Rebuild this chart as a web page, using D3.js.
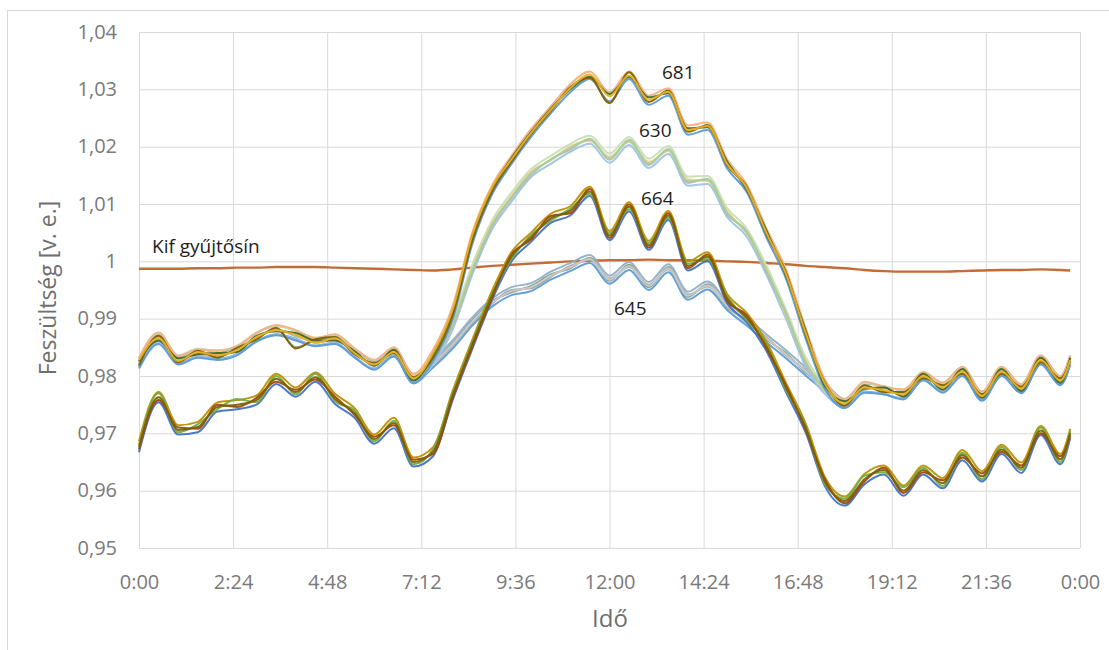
<!DOCTYPE html>
<html>
<head>
<meta charset="utf-8">
<script src="https://cdn.jsdelivr.net/npm/d3@7"></script>
<style>
  body { margin: 0; background: #fff; }
  text { font-family: "Open Sans", sans-serif; }
</style>
</head>
<body>
<svg id="chart" width="1109" height="650"></svg>
<script>
// time of each sample, minutes after midnight
var times = [0, 30, 60, 90, 120, 150, 180, 210, 240, 270, 300, 330, 360, 390, 420, 450,
  480, 510, 540, 570, 600, 630, 660, 690, 720, 750, 780, 810, 840, 870, 900, 930,
  960, 990, 1020, 1050, 1080, 1110, 1140, 1170, 1200, 1230, 1260, 1290, 1320, 1350,
  1380, 1410, 1425];

var xTickValues = [0, 144, 288, 432, 576, 720, 864, 1008, 1152, 1296, 1440];
var xTickLabels = ['0:00', '2:24', '4:48', '7:12', '9:36', '12:00', '14:24', '16:48', '19:12', '21:36', '0:00'];
var yTickValues = [0.95, 0.96, 0.97, 0.98, 0.99, 1.00, 1.01, 1.02, 1.03, 1.04];
var yTickLabels = ['0,95', '0,96', '0,97', '0,98', '0,99', '1', '1,01', '1,02', '1,03', '1,04'];

var kif = [0.9987, 0.9987, 0.9987, 0.9988, 0.9988, 0.9989, 0.9989, 0.9990, 0.9990, 0.9990, 0.9989, 0.9988, 0.9987, 0.9986, 0.9985, 0.9984, 0.9986,
  0.9989, 0.9992, 0.9994, 0.9996, 0.9998, 1.0000, 1.0001, 1.0002, 1.0002, 1.0003, 1.0002, 1.0002, 1.0001, 1.0000, 0.9999,
  0.9997, 0.9995, 0.9992, 0.9990, 0.9988, 0.9985, 0.9983, 0.9982, 0.9982, 0.9982, 0.9983, 0.9984, 0.9985, 0.9985, 0.9986, 0.9985, 0.9984];

var lines681 = [
  [0.9832, 0.9876, 0.9835, 0.9846, 0.9845, 0.9852, 0.9875, 0.9889, 0.9880, 0.9866, 0.9873, 0.9848, 0.9828, 0.9850, 0.9804,
   0.9846, 0.9922, 1.0050, 1.0132, 1.0184, 1.0231, 1.0270, 1.0309, 1.0331, 1.0295, 1.0331, 1.0289, 1.0302, 1.0237, 1.0242, 1.0178, 1.0134, 1.0058, 0.9986, 0.9884, 0.9793,
   0.9760, 0.9790, 0.9781, 0.9777, 0.9806, 0.9789, 0.9816, 0.9773, 0.9816, 0.9785, 0.9836, 0.9800, 0.9836],
  [0.9813, 0.9856, 0.9820, 0.9832, 0.9828, 0.9836, 0.9860, 0.9871, 0.9862, 0.9852, 0.9856, 0.9832, 0.9811, 0.9834, 0.9787,
   0.9826, 0.9899, 1.0030, 1.0116, 1.0170, 1.0217, 1.0258, 1.0295, 1.0318, 1.0279, 1.0318, 1.0273, 1.0289, 1.0221, 1.0229, 1.0162, 1.0121, 1.0042, 0.9970, 0.9866, 0.9777,
   0.9744, 0.9771, 0.9768, 0.9759, 0.9793, 0.9771, 0.9800, 0.9757, 0.9800, 0.9770, 0.9820, 0.9784, 0.9820],
  [0.9826, 0.9862, 0.9831, 0.9838, 0.9840, 0.9842, 0.9870, 0.9878, 0.9875, 0.9862, 0.9862, 0.9843, 0.9818, 0.9846, 0.9792,
   0.9838, 0.9912, 1.0044, 1.0126, 1.0180, 1.0226, 1.0266, 1.0300, 1.0322, 1.0292, 1.0322, 1.0286, 1.0293, 1.0232, 1.0234, 1.0174, 1.0125, 1.0054, 0.9975, 0.9880, 0.9782,
   0.9756, 0.9778, 0.9780, 0.9764, 0.9804, 0.9776, 0.9812, 0.9762, 0.9812, 0.9774, 0.9832, 0.9788, 0.9832],
  [0.9818, 0.9870, 0.9824, 0.9844, 0.9832, 0.9849, 0.9864, 0.9884, 0.9848, 0.9864, 0.9868, 0.9838, 0.9823, 0.9840, 0.9798,
   0.9832, 0.9906, 1.0036, 1.0121, 1.0174, 1.0222, 1.0262, 1.0304, 1.0320, 1.0276, 1.0330, 1.0278, 1.0298, 1.0226, 1.0238, 1.0167, 1.0130, 1.0047, 0.9981, 0.9872, 0.9788,
   0.9748, 0.9784, 0.9772, 0.9772, 0.9796, 0.9784, 0.9804, 0.9768, 0.9804, 0.9781, 0.9824, 0.9796, 0.9826],
  [0.9828, 0.9866, 0.9826, 0.9842, 0.9836, 0.9845, 0.9868, 0.9880, 0.9872, 0.9858, 0.9866, 0.9840, 0.9820, 0.9842, 0.9796,
   0.9840, 0.9916, 1.0046, 1.0128, 1.0178, 1.0224, 1.0264, 1.0302, 1.0326, 1.0288, 1.0324, 1.0282, 1.0296, 1.0229, 1.0236, 1.0170, 1.0128, 1.0050, 0.9978, 0.9876, 0.9786,
   0.9752, 0.9780, 0.9775, 0.9768, 0.9800, 0.9780, 0.9808, 0.9765, 0.9808, 0.9778, 0.9828, 0.9792, 0.9828]
];

var lines630 = [
  [0.9831, 0.9874, 0.9836, 0.9848, 0.9843, 0.9853, 0.9876, 0.9887, 0.9879, 0.9867, 0.9872, 0.9848, 0.9828, 0.9849, 0.9802,
   0.9836, 0.9899, 0.9994, 1.0071, 1.0120, 1.0161, 1.0184, 1.0205, 1.0219, 1.0188, 1.0217, 1.0179, 1.0201, 1.0148, 1.0149, 1.0093, 1.0057, 0.9993, 0.9916, 0.9833, 0.9783,
   0.9759, 0.9788, 0.9782, 0.9775, 0.9808, 0.9787, 0.9815, 0.9772, 0.9815, 0.9786, 0.9835, 0.9799, 0.9835],
  [0.9815, 0.9858, 0.9821, 0.9833, 0.9829, 0.9838, 0.9861, 0.9872, 0.9864, 0.9853, 0.9858, 0.9833, 0.9812, 0.9835, 0.9789,
   0.9820, 0.9881, 0.9977, 1.0055, 1.0104, 1.0147, 1.0170, 1.0191, 1.0205, 1.0172, 1.0203, 1.0163, 1.0187, 1.0132, 1.0135, 1.0077, 1.0043, 0.9977, 0.9900, 0.9817, 0.9768,
   0.9745, 0.9772, 0.9768, 0.9761, 0.9792, 0.9773, 0.9801, 0.9758, 0.9801, 0.9771, 0.9821, 0.9785, 0.9821],
  [0.9824, 0.9868, 0.9826, 0.9842, 0.9838, 0.9843, 0.9870, 0.9878, 0.9874, 0.9858, 0.9866, 0.9840, 0.9822, 0.9842, 0.9797,
   0.9830, 0.9893, 0.9988, 1.0066, 1.0114, 1.0157, 1.0176, 1.0201, 1.0210, 1.0183, 1.0208, 1.0174, 1.0192, 1.0143, 1.0140, 1.0088, 1.0048, 0.9988, 0.9906, 0.9828, 0.9773,
   0.9755, 0.9778, 0.9779, 0.9764, 0.9804, 0.9777, 0.9812, 0.9762, 0.9812, 0.9774, 0.9832, 0.9788, 0.9832],
  [0.9821, 0.9862, 0.9830, 0.9836, 0.9834, 0.9847, 0.9866, 0.9882, 0.9869, 0.9862, 0.9863, 0.9842, 0.9818, 0.9844, 0.9793,
   0.9826, 0.9887, 0.9982, 1.0060, 1.0110, 1.0151, 1.0178, 1.0195, 1.0214, 1.0177, 1.0212, 1.0168, 1.0196, 1.0137, 1.0144, 1.0082, 1.0052, 0.9982, 0.9910, 0.9822, 0.9777,
   0.9749, 0.9784, 0.9771, 0.9772, 0.9796, 0.9783, 0.9804, 0.9768, 0.9804, 0.9782, 0.9824, 0.9796, 0.9824],
  [0.9823, 0.9866, 0.9828, 0.9840, 0.9836, 0.9845, 0.9868, 0.9880, 0.9872, 0.9860, 0.9865, 0.9840, 0.9820, 0.9842, 0.9795,
   0.9828, 0.9890, 0.9985, 1.0063, 1.0112, 1.0154, 1.0177, 1.0198, 1.0212, 1.0180, 1.0210, 1.0171, 1.0194, 1.0140, 1.0142, 1.0085, 1.0050, 0.9985, 0.9908, 0.9825, 0.9775,
   0.9752, 0.9780, 0.9775, 0.9768, 0.9800, 0.9780, 0.9808, 0.9765, 0.9808, 0.9778, 0.9828, 0.9792, 0.9828]
];

var lines645 = [
  [0.9830, 0.9873, 0.9834, 0.9847, 0.9842, 0.9851, 0.9875, 0.9887, 0.9879, 0.9866, 0.9871, 0.9846, 0.9826, 0.9848, 0.9802,
   0.9829, 0.9862, 0.9902, 0.9935, 0.9955, 0.9962, 0.9982, 0.9997, 1.0011, 0.9975, 0.9999, 0.9964, 0.9995, 0.9947, 0.9965, 0.9929, 0.9902, 0.9873, 0.9845, 0.9815, 0.9787,
   0.9760, 0.9787, 0.9782, 0.9775, 0.9806, 0.9787, 0.9815, 0.9772, 0.9815, 0.9785, 0.9835, 0.9799, 0.9834],
  [0.9816, 0.9859, 0.9822, 0.9833, 0.9830, 0.9838, 0.9861, 0.9873, 0.9865, 0.9853, 0.9858, 0.9833, 0.9813, 0.9836, 0.9788,
   0.9815, 0.9848, 0.9888, 0.9921, 0.9941, 0.9948, 0.9968, 0.9983, 0.9997, 0.9961, 0.9985, 0.9950, 0.9981, 0.9933, 0.9951, 0.9915, 0.9888, 0.9859, 0.9831, 0.9801, 0.9773,
   0.9745, 0.9773, 0.9768, 0.9761, 0.9793, 0.9773, 0.9801, 0.9758, 0.9801, 0.9771, 0.9821, 0.9785, 0.9821],
  [0.9825, 0.9864, 0.9830, 0.9842, 0.9834, 0.9847, 0.9866, 0.9882, 0.9850, 0.9862, 0.9867, 0.9838, 0.9822, 0.9840, 0.9797,
   0.9824, 0.9857, 0.9897, 0.9930, 0.9946, 0.9957, 0.9977, 0.9988, 1.0006, 0.9966, 0.9994, 0.9955, 0.9990, 0.9938, 0.9960, 0.9920, 0.9897, 0.9864, 0.9840, 0.9806, 0.9782,
   0.9755, 0.9777, 0.9780, 0.9765, 0.9803, 0.9777, 0.9811, 0.9762, 0.9811, 0.9775, 0.9831, 0.9789, 0.9831],
  [0.9821, 0.9868, 0.9826, 0.9838, 0.9838, 0.9843, 0.9870, 0.9878, 0.9874, 0.9858, 0.9863, 0.9842, 0.9818, 0.9844, 0.9793,
   0.9820, 0.9853, 0.9893, 0.9926, 0.9950, 0.9953, 0.9973, 0.9992, 1.0002, 0.9970, 0.9990, 0.9959, 0.9986, 0.9942, 0.9956, 0.9924, 0.9893, 0.9868, 0.9836, 0.9810, 0.9778,
   0.9749, 0.9783, 0.9772, 0.9771, 0.9797, 0.9783, 0.9805, 0.9768, 0.9805, 0.9781, 0.9825, 0.9795, 0.9825],
  [0.9823, 0.9866, 0.9828, 0.9840, 0.9836, 0.9845, 0.9868, 0.9880, 0.9872, 0.9860, 0.9865, 0.9840, 0.9820, 0.9842, 0.9795,
   0.9822, 0.9855, 0.9895, 0.9928, 0.9948, 0.9955, 0.9975, 0.9990, 1.0004, 0.9968, 0.9992, 0.9957, 0.9988, 0.9940, 0.9958, 0.9922, 0.9895, 0.9866, 0.9838, 0.9808, 0.9780,
   0.9752, 0.9780, 0.9775, 0.9768, 0.9800, 0.9780, 0.9808, 0.9765, 0.9808, 0.9778, 0.9828, 0.9792, 0.9828]
];

var lines664 = [
  [0.9686, 0.9772, 0.9714, 0.9720, 0.9754, 0.9758, 0.9766, 0.9804, 0.9780, 0.9806, 0.9769, 0.9744, 0.9698, 0.9727, 0.9658,
   0.9676, 0.9774, 0.9863, 0.9948, 1.0016, 1.0050, 1.0083, 1.0096, 1.0130, 1.0053, 1.0103, 1.0036, 1.0088, 1.0000, 1.0016, 0.9943, 0.9910, 0.9860, 0.9788, 0.9718, 0.9623,
   0.9590, 0.9629, 0.9644, 0.9609, 0.9644, 0.9622, 0.9671, 0.9634, 0.9680, 0.9649, 0.9713, 0.9664, 0.9708],
  [0.9667, 0.9754, 0.9698, 0.9702, 0.9738, 0.9742, 0.9750, 0.9786, 0.9764, 0.9790, 0.9751, 0.9727, 0.9682, 0.9709, 0.9642,
   0.9660, 0.9758, 0.9847, 0.9932, 1.0000, 1.0034, 1.0067, 1.0080, 1.0114, 1.0037, 1.0087, 1.0020, 1.0072, 0.9984, 1.0000, 0.9927, 0.9894, 0.9844, 0.9772, 0.9702, 0.9607,
   0.9574, 0.9611, 0.9628, 0.9591, 0.9628, 0.9604, 0.9653, 0.9616, 0.9664, 0.9631, 0.9697, 0.9646, 0.9692],
  [0.9680, 0.9770, 0.9702, 0.9716, 0.9742, 0.9760, 0.9754, 0.9800, 0.9768, 0.9804, 0.9756, 0.9740, 0.9686, 0.9722, 0.9646,
   0.9672, 0.9770, 0.9859, 0.9944, 1.0004, 1.0046, 1.0071, 1.0092, 1.0118, 1.0049, 1.0091, 1.0032, 1.0076, 0.9996, 1.0004, 0.9939, 0.9898, 0.9856, 0.9776, 0.9714, 0.9611,
   0.9586, 0.9626, 0.9632, 0.9606, 0.9640, 0.9608, 0.9666, 0.9620, 0.9676, 0.9636, 0.9710, 0.9650, 0.9704],
  [0.9672, 0.9758, 0.9710, 0.9708, 0.9750, 0.9746, 0.9762, 0.9790, 0.9776, 0.9794, 0.9764, 0.9732, 0.9694, 0.9714, 0.9654,
   0.9664, 0.9762, 0.9851, 0.9936, 1.0012, 1.0038, 1.0079, 1.0084, 1.0126, 1.0041, 1.0099, 1.0024, 1.0084, 0.9988, 1.0012, 0.9931, 0.9906, 0.9848, 0.9784, 0.9706, 0.9619,
   0.9578, 0.9616, 0.9640, 0.9596, 0.9632, 0.9618, 0.9658, 0.9630, 0.9668, 0.9644, 0.9700, 0.9660, 0.9696],
  [0.9676, 0.9763, 0.9706, 0.9711, 0.9746, 0.9750, 0.9758, 0.9795, 0.9772, 0.9798, 0.9760, 0.9735, 0.9690, 0.9718, 0.9650,
   0.9668, 0.9766, 0.9855, 0.9940, 1.0008, 1.0042, 1.0075, 1.0088, 1.0122, 1.0045, 1.0095, 1.0028, 1.0080, 0.9992, 1.0008, 0.9935, 0.9902, 0.9852, 0.9780, 0.9710, 0.9615,
   0.9582, 0.9620, 0.9636, 0.9600, 0.9636, 0.9613, 0.9662, 0.9625, 0.9672, 0.9640, 0.9705, 0.9655, 0.9700]
];

var seriesLabels = ['681', '630', '664', '645', 'Kif gyűjtősín'];

// --- drawing ---
var svg = d3.select('#chart');
var x = d3.scaleLinear().domain([0, 1440]).range([139, 1080]);
var y = d3.scaleLinear().domain([0.95, 1.04]).range([548, 32]);

// outer chart border
svg.append('rect')
  .attr('x', 7.5).attr('y', 10.5)
  .attr('width', 1120).attr('height', 660)
  .attr('fill', 'none')
  .attr('stroke', '#d9d9d9');

// gridlines
svg.append('g')
  .attr('transform', 'translate(0,548)')
  .call(d3.axisBottom(x).tickValues(xTickValues).tickSize(-516).tickFormat(''))
  .call(function(g) { g.select('.domain').remove(); })
  .selectAll('line').attr('stroke', '#d9d9d9');

svg.append('g')
  .attr('transform', 'translate(139,0)')
  .call(d3.axisLeft(y).tickValues(yTickValues).tickSize(-941).tickFormat(''))
  .call(function(g) { g.select('.domain').remove(); })
  .selectAll('line').attr('stroke', '#d9d9d9');

// tick labels
var xAxis = svg.append('g')
  .attr('transform', 'translate(0,548)')
  .call(d3.axisBottom(x).tickValues(xTickValues).tickSize(0).tickPadding(0)
    .tickFormat(function(d, i) { return xTickLabels[i]; }));
xAxis.select('.domain').remove();
xAxis.selectAll('text')
  .attr('dy', null).attr('y', 41)
  .attr('font-size', 20).attr('font-family', '"Open Sans", sans-serif')
  .attr('fill', '#7a7a7a');

var yAxis = svg.append('g')
  .attr('transform', 'translate(117,0)')
  .call(d3.axisLeft(y).tickValues(yTickValues).tickSize(0).tickPadding(0)
    .tickFormat(function(d, i) { return yTickLabels[i]; }));
yAxis.select('.domain').remove();
yAxis.selectAll('text')
  .attr('dy', null).attr('y', 6).attr('x', 0)
  .attr('font-size', 20).attr('font-family', '"Open Sans", sans-serif')
  .attr('fill', '#7a7a7a');

// axis titles
svg.append('text')
  .attr('transform', 'translate(56,288) rotate(-90)')
  .attr('text-anchor', 'middle')
  .attr('font-size', 23)
  .attr('fill', '#6f6f6f')
  .text('Feszültség [v. e.]');

svg.append('text')
  .attr('x', 610).attr('y', 627)
  .attr('text-anchor', 'middle')
  .attr('font-size', 24)
  .attr('fill', '#6f6f6f')
  .text('Idő');

var line = d3.line()
  .x(function(d, i) { return x(times[i]); })
  .y(function(d) { return y(d); })
  .curve(d3.curveMonotoneX);

// busbar first, below the feeder lines
svg.append('path')
  .attr('d', line(kif))
  .attr('fill', 'none')
  .attr('stroke', '#c46b36')
  .attr('stroke-width', 2.4);

var groups = [
  { lines: lines645, colors: ['#8fb0c8', '#5b9bd5', '#7f9f86', '#a5a5a5', '#c9c9c9'] },
  { lines: lines664, colors: ['#bf9000', '#4472c4', '#70ad47', '#9e480e', '#7f6000'] },
  { lines: lines630, colors: ['#c5e0b4', '#9dc3e6', '#f8cbad', '#b7b7b7', '#a9d18e'] },
  { lines: lines681, colors: ['#f4b183', '#5b9bd5', '#43682b', '#7f6000', '#e9b022'] }
];

groups.forEach(function(grp) {
  svg.append('g').selectAll('path')
    .data(grp.lines)
    .enter()
    .append('path')
    .attr('d', line)
    .attr('fill', 'none')
    .attr('stroke', function(d, i) { return grp.colors[i]; })
    .attr('stroke-width', 2)
    .attr('stroke-opacity', 0.95);
});

// labels
var labelPos = [[662, 79], [639, 137], [641, 205], [614, 315], [152, 253]];
svg.append('g').selectAll('text')
  .data(seriesLabels)
  .enter()
  .append('text')
  .attr('x', function(d, i) { return labelPos[i][0]; })
  .attr('y', function(d, i) { return labelPos[i][1]; })
  .attr('font-size', 19)
  .attr('fill', '#1e1e1e')
  .text(function(d) { return d; });
</script>
</body>
</html>
